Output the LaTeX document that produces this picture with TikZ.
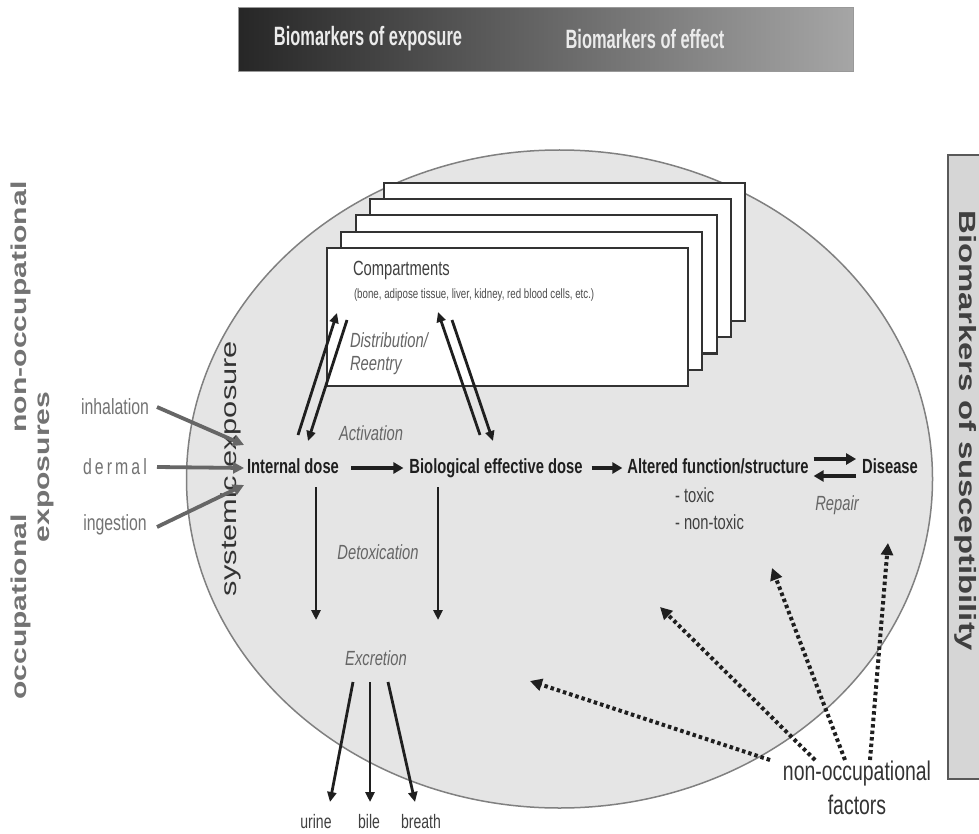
\documentclass[tikz,border=0pt]{standalone}
\usepackage{fontspec}
\setmainfont{Liberation Sans}
\newfontfamily\nfont{Liberation Sans}[FakeStretch=0.72]
\newfontfamily\vfont{Liberation Sans}[FakeStretch=1.4]
\newfontfamily\bnfont{Liberation Sans}[FakeStretch=0.62]
\newfontfamily\dfont{Liberation Sans}[FakeStretch=0.72,LetterSpace=14]
\usetikzlibrary{arrows.meta}
\newcommand{\fsz}[1]{\fontsize{#1}{#1}\selectfont}
\begin{document}
\begin{tikzpicture}[x=1pt,y=-1pt,
  txt/.style={inner sep=0pt, outer sep=0pt},
  main/.style={txt, font=\nfont\bfseries\fsz{20.5}, text height=15pt, text depth=4pt, text=black!88},
  lab/.style={txt, font=\nfont\itshape\fsz{20.5}, text=black!60},
  plain/.style={txt, font=\nfont\fsz{20.5}, text=black!75},
  inlab/.style={txt, font=\nfont\fsz{22}, text=black!55},
  vlab/.style={txt, rotate=90, font=\vfont\bfseries\fsz{21.5}, text=black!55},
  arr/.style={line width=2.8pt, black!88, -{Triangle[length=10pt,width=9pt]}},
  bigarr/.style={line width=4.2pt, black!88, -{Triangle[length=10pt,width=11pt]}},
  inarr/.style={line width=3.8pt, black!60, -{Triangle[length=11pt,width=11pt]}},
  dotarr/.style={line width=4pt, black!88, dash pattern=on 3.5pt off 3pt, -{Triangle[length=12pt,width=12pt]}},
  comp/.style={draw=black!80, fill=white, line width=2.2pt}
]
\useasboundingbox (0,0) rectangle (979,834);
\fill[white] (0,0) rectangle (979,834);

% banner
\shade[left color=black!85, right color=black!35] (238,8) rectangle (853,72);
\draw[black!40, line width=1pt] (238,8) rectangle (853,72);
\node[txt, font=\bnfont\bfseries\fsz{26.5}, text=white!92!black] (bexp) at (368,39) {Biomarkers of exposure};
\node[txt, font=\bnfont\bfseries\fsz{26.5}, text=white!92!black] (beff) at (645,39) {Biomarkers of effect};

% susceptibility box
\draw[fill=black!16, draw=black!65, line width=2pt] (948,155) rectangle (995,779);
\node[txt, rotate=-90, anchor=base, font=\vfont\bfseries\fsz{23.5}, text=black!75] (bsus) at (959.5,431) {Biomarkers of susceptibility};

% body ellipse
\draw[fill=black!10, draw=black!50, line width=1.5pt] (559.5,479) ellipse [x radius=373, y radius=329];

% compartments
\foreach \k in {4,3,2,1,0}
  \draw[comp, shift={(\k*14.3,\k*-16.3)}] (327,248) rectangle (688,386);
\node[txt, anchor=west, font=\nfont\fsz{20.5}, text=black!75] (comp) at (353,270) {Compartments};
\node[txt, anchor=west, font=\nfont\fsz{13.5}, text=black!70] (compd) at (354,295) {(bone, adipose tissue, liver, kidney, red blood cells, etc.)};
\node[lab, anchor=west] (dist) at (350,340) {Distribution/};
\node[lab, anchor=west] (reen) at (350,366) {Reentry};

% left labels
\node[vlab] (nonocc) at (20.5,307) {non-occupational};
\node[vlab] (occ) at (20.5,607) {occupational};
\node[vlab] (expo) at (45.5,467) {exposures};
\node[txt, rotate=90, font=\vfont\fsz{22}, text=black!80] (sys) at (230.5,468.5) {systemic exposure};

\node[inlab] (inh) at (115,407) {inhalation};
\node[txt, font=\dfont\fsz{22}, text=black!55] (derm) at (115,467) {dermal};
\node[inlab] (ing) at (115,525) {ingestion};

% main row
\node[main] (idose) at (293,468) {Internal dose};
\node[main] (bed) at (496,468) {Biological effective dose};
\node[main] (alt) at (718,468) {Altered function/structure};
\node[main] (dis) at (890,468) {Disease};
\node[plain, anchor=west] (tox) at (675,495) {- toxic};
\node[plain, anchor=west] (ntox) at (675,522) {- non-toxic};
\node[lab] (rep) at (837,505) {Repair};
\node[lab] (act) at (371,433) {Activation};
\node[lab] (detox) at (378,552) {Detoxication};
\node[lab] (excr) at (376,658) {Excretion};
\node[plain, font=\nfont\fsz{19.5}] (urine) at (316,822) {urine};
\node[plain, font=\nfont\fsz{19.5}] (bile) at (369,822) {bile};
\node[plain, font=\nfont\fsz{19.5}] (breath) at (421,822) {breath};

\node[txt, align=center, font=\nfont\fontsize{27}{34}\selectfont, text=black!80] (nof) at (857,788) {non-occupational\\factors};

% coordinates
\coordinate (ci1) at (157,407); \coordinate (ci2) at (157,467); \coordinate (ci3) at (157,527);
\coordinate (a1s) at (298,435); \coordinate (a1e) at (337,313);
\coordinate (a2s) at (347,320); \coordinate (a2e) at (308,441);
\coordinate (b1s) at (480,435); \coordinate (b1e) at (438,312);
\coordinate (b2s) at (452,320); \coordinate (b2e) at (493,441);
\coordinate (dLs) at (316,487); \coordinate (dLe) at (316,620);
\coordinate (dRs) at (438,487); \coordinate (dRe) at (438,620);
\coordinate (e1s) at (353,682); \coordinate (e1e) at (330,802);
\coordinate (e2s) at (370,682); \coordinate (e2e) at (370,802);
\coordinate (e3s) at (388,682); \coordinate (e3e) at (415,802);
\coordinate (s1) at (770,760); \coordinate (h1) at (530,681);
\coordinate (s2) at (815,760); \coordinate (h2) at (660,607);
\coordinate (s3) at (845,760); \coordinate (h3) at (772,568);
\coordinate (s4) at (870,760); \coordinate (h4) at (888,543);

% input arrows
\draw[inarr] (ci1) -- ([xshift=-3pt,yshift=23pt]idose.west);
\draw[inarr] (ci2) -- ([xshift=-3pt]idose.west);
\draw[inarr] (ci3) -- ([xshift=-3pt,yshift=-17pt]idose.west);

% main arrows
\draw[bigarr] ([xshift=12.5pt]idose.east) -- ([xshift=-6pt]bed.west);
\draw[bigarr] ([xshift=9pt]bed.east) -- ([xshift=-5pt]alt.west);
\draw[bigarr] ([xshift=5pt,yshift=9pt]alt.east) -- ([xshift=-6pt,yshift=9pt]dis.west);
\draw[bigarr] ([xshift=-6pt,yshift=-8pt]dis.west) -- ([xshift=5pt,yshift=-8pt]alt.east);

% distribution arrows
\draw[arr] (a1s) -- (a1e);
\draw[arr] (a2s) -- (a2e);
\draw[arr] (b1s) -- (b1e);
\draw[arr] (b2s) -- (b2e);

% detox / excretion
\draw[arr] (dLs) -- (dLe);
\draw[arr] (dRs) -- (dRe);
\draw[arr] (e1s) -- (e1e);
\draw[arr] (e2s) -- (e2e);
\draw[arr] (e3s) -- (e3e);

% dotted factor arrows
\draw[dotarr] (s1) -- (h1);
\draw[dotarr] (s2) -- (h2);
\draw[dotarr] (s3) -- (h3);
\draw[dotarr] (s4) -- (h4);
\end{tikzpicture}
\end{document}
